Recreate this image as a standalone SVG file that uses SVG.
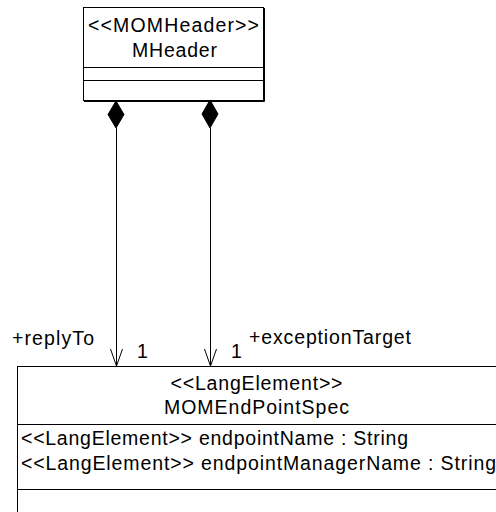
<svg xmlns="http://www.w3.org/2000/svg" width="496" height="512" viewBox="0 0 496 512">
<style>
  .box { fill: #ffffff; stroke: #000000; stroke-width: 1; }
  .div { stroke: #000000; stroke-width: 1; }
  .shadow { stroke: #000000; stroke-width: 1; }
  .edge { stroke: #000000; stroke-width: 1; fill: none; }
  .diamond { fill: #000000; stroke: #000000; stroke-width: 1; }
  text { font-family: "Liberation Sans", Arial, sans-serif; font-size: 19.5px; fill: #000000; }
</style>
<rect x="0" y="0" width="496" height="512" fill="#ffffff"/>
<g id="MHeader">
  <rect class="box" x="83.5" y="7.5" width="180" height="93"/>
  <line class="shadow" x1="264.5" y1="8" x2="264.5" y2="101.5"/>
  <line class="shadow" x1="84" y1="101.5" x2="264.5" y2="101.5"/>
  <line class="div" x1="83.5" y1="67.5" x2="263.5" y2="67.5"/>
  <line class="div" x1="83.5" y1="80.5" x2="263.5" y2="80.5"/>
  <text x="88" y="32" textLength="171" lengthAdjust="spacing">&lt;&lt;MOMHeader&gt;&gt;</text>
  <text x="132" y="57" textLength="85" lengthAdjust="spacing">MHeader</text>
</g>
<g id="MOMEndPointSpec">
  <rect class="box" x="17.5" y="366.5" width="480" height="160"/>
  <line class="div" x1="17.5" y1="424.5" x2="497" y2="424.5"/>
  <line class="div" x1="17.5" y1="489.5" x2="497" y2="489.5"/>
  <text x="170.5" y="389.5" textLength="172" lengthAdjust="spacing">&lt;&lt;LangElement&gt;&gt;</text>
  <text x="164" y="414" textLength="185" lengthAdjust="spacing">MOMEndPointSpec</text>
  <text x="21" y="445" textLength="387" lengthAdjust="spacing">&lt;&lt;LangElement&gt;&gt; endpointName : String</text>
  <text x="21" y="470" textLength="475" lengthAdjust="spacing">&lt;&lt;LangElement&gt;&gt; endpointManagerName : String</text>
</g>
<g id="connectors">
  <g id="replyTo">
    <polygon class="diamond" points="116,101 124,114.5 116,128 108,114.5"/>
    <line class="edge" x1="116.5" y1="128" x2="116.5" y2="366"/>
    <polyline class="edge" points="110.5,349 116.5,366 122.5,349"/>
    <text x="12" y="345" textLength="82" lengthAdjust="spacing">+replyTo</text>
    <text x="137" y="358">1</text>
  </g>
  <g id="exceptionTarget">
    <polygon class="diamond" points="210,100 218,114 210,128 202,114"/>
    <line class="edge" x1="210.5" y1="128" x2="210.5" y2="366"/>
    <polyline class="edge" points="204.5,349 210.5,366 216.5,349"/>
    <text x="249" y="344" textLength="162" lengthAdjust="spacing">+exceptionTarget</text>
    <text x="231" y="358">1</text>
  </g>
</g>
</svg>
